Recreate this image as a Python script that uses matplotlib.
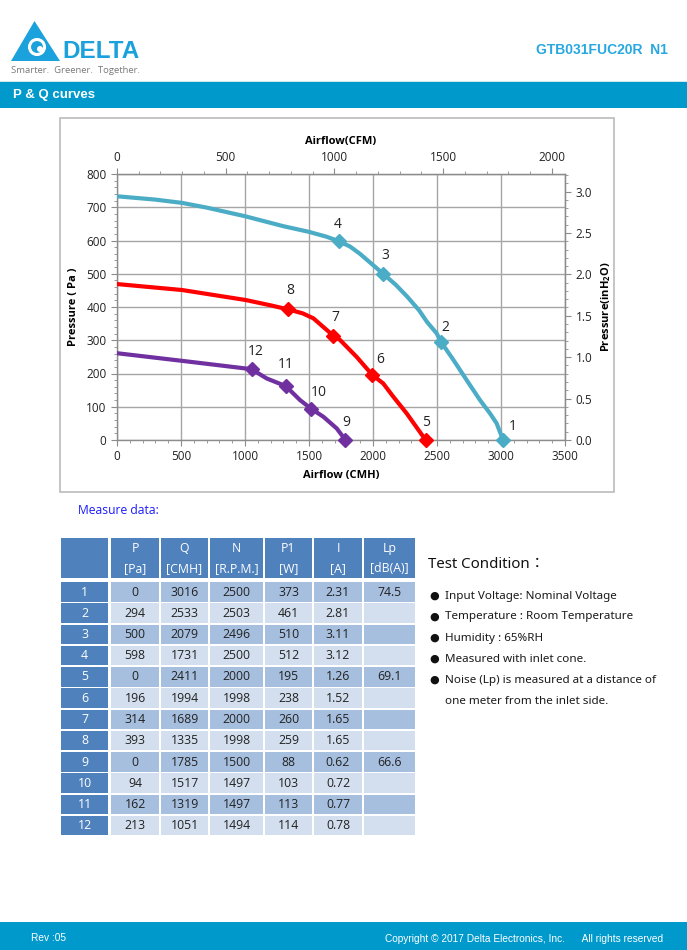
import matplotlib
matplotlib.use("Agg")
import matplotlib.pyplot as plt
from matplotlib.patches import Rectangle, Polygon, Circle
from matplotlib.ticker import MultipleLocator, FixedLocator, FormatStrFormatter

plt.rcParams["mathtext.fontset"] = "custom"
plt.rcParams["mathtext.rm"] = "Open Sans"
plt.rcParams["mathtext.bf"] = "Open Sans:bold"

# Measured operating points (table on the sheet)
point_no = [1, 2, 3, 4, 5, 6, 7, 8, 9, 10, 11, 12]
p_pa = [0, 294, 500, 598, 0, 196, 314, 393, 0, 94, 162, 213]
q_cmh = [3016, 2533, 2079, 1731, 2411, 1994, 1689, 1335, 1785, 1517, 1319, 1051]
speed_rpm = [2500, 2503, 2496, 2500, 2000, 1998, 2000, 1998, 1500, 1497, 1497, 1494]
power_w = [373, 461, 510, 512, 195, 238, 260, 259, 88, 103, 113, 114]
current_a = ["2.31", "2.81", "3.11", "3.12", "1.26", "1.52", "1.65", "1.65",
             "0.62", "0.72", "0.77", "0.78"]
noise_db = ["74.5", "", "", "", "69.1", "", "", "", "66.6", "", "", ""]

# P-Q curve traces (CMH, Pa)
curve_2500_q = [0, 300, 510, 700, 1000, 1300, 1500, 1640, 1731, 1820, 1898, 2079, 2180,
                2270, 2360, 2424, 2497, 2533, 2628, 2732, 2836, 2914, 2966, 3016]
curve_2500_p = [733, 723, 713, 699, 673, 643, 626, 611, 598, 582, 560, 500, 466,
                430, 390, 354, 321, 294, 241, 180, 120, 80, 50, 0]
curve_2000_q = [0, 510, 1005, 1200, 1335, 1450, 1534, 1689, 1742, 1872, 1994, 2080, 2159,
                2263, 2411]
curve_2000_p = [469, 451, 421, 405, 393, 381, 366, 314, 301, 250, 196, 170, 130, 80, 0]
curve_1500_q = [0, 510, 1051, 1170, 1319, 1430, 1517, 1612, 1716, 1785]
curve_1500_p = [261, 238, 213, 185, 162, 120, 94, 70, 35, 0]

curve_colors = ["#4bacc6", "#ff0000", "#7030a0"]

# label offsets (pixels) for the point numbers
label_dx = [10, 4, 2, -1, 0, 8, 2, 2, 1, 8, 0, 4]
label_dy = [13, 15, 18, 17, 17, 15, 18, 19, 17, 16, 22, 18]

cfm_ticks = [0, 500, 1000, 1500, 2000]
inh2o_ticks = [0.0, 0.5, 1.0, 1.5, 2.0, 2.5, 3.0]

col_heads = [("P", "[Pa]"), ("Q", "[CMH]"), ("N", "[R.P.M.]"),
             ("P1", "[W]"), ("I", "[A]"), ("Lp", "[dB(A)]")]

conditions = ["Input Voltage: Nominal Voltage",
              "Temperature : Room Temperature",
              "Humidity : 65%RH",
              "Measured with inlet cone.",
              "Noise (Lp) is measured at a distance of",
              "one meter from the inlet side."]

W, H = 687, 950
fig = plt.figure(figsize=(W / 100, H / 100), dpi=100)

# page layer in pixel coordinates
pg = fig.add_axes([0, 0, 1, 1])
pg.set_xlim(0, W)
pg.set_ylim(H, 0)
pg.axis("off")

bar_blue = "#0099cc"
logo_blue = "#1ba1db"

# logo
pg.add_patch(Polygon([[11, 61], [34.5, 21], [60, 61]], closed=True, color=logo_blue, lw=0))
pg.add_patch(Circle((37, 47), 7.5, fill=False, ec="white", lw=2.2))
pg.add_patch(Circle((40, 49), 3.0, color="white", lw=0))
pg.text(62, 52, "DELTA", fontsize=17.5, fontweight="heavy", color=logo_blue,
        family="Liberation Sans", va="center", ha="left")
pg.text(11, 70.5, "Smarter.  Greener.  Together.", fontsize=6.8, color="#7a7a7a",
        family="Open Sans", va="center", ha="left")
pg.text(668, 50, "GTB031FUC20R  N1", fontsize=10, fontweight="bold", color="#27a8e0",
        family="Liberation Sans", va="center", ha="right")

# header bar
pg.add_patch(Rectangle((0, 80.5), W, 1.2, color="#cfe8f3", lw=0))
pg.add_patch(Rectangle((0, 82), W, 26, color=bar_blue, lw=0))
pg.text(13, 95, "P & Q curves", fontsize=9.5, fontweight="bold", color="white",
        family="Liberation Sans", va="center", ha="left")

# chart frame
pg.add_patch(Rectangle((60, 118), 554, 374, fill=False, ec="#c0c0c0", lw=1.3))

# footer
pg.add_patch(Rectangle((0, 922), W, 28, color=bar_blue, lw=0))
pg.text(31, 938, "Rev :05", fontsize=7.3, color="white", family="Liberation Sans",
        va="center", ha="left")
pg.text(663, 939, "Copyright \u00a9 2017 Delta Electronics, Inc.      All rights reserved",
        fontsize=7.3, color="white", family="Liberation Sans", va="center", ha="right")

# measure data title
pg.text(78, 510, "Measure data:", fontsize=8.7, color="#1a1aff", family="Open Sans",
        va="center", ha="left")

# table
col_x = [(61, 108), (111, 159), (161, 208), (210, 263), (265, 312), (314, 362), (364, 415)]
head_fill = "#4f81bd"
row_fill = ["#a7bfde", "#d3dfee"]
tfont = "Open Sans"
for j, (x0, x1) in enumerate(col_x):
    pg.add_patch(Rectangle((x0, 538), x1 - x0, 40, color=head_fill, lw=0))
    if j > 0:
        top, bot = col_heads[j - 1]
        pg.text((x0 + x1) / 2, 548.5, top, fontsize=8.8, color="white", family=tfont,
                ha="center", va="center")
        pg.text((x0 + x1) / 2, 569, bot, fontsize=8.8, color="white", family=tfont,
                ha="center", va="center")

for i in range(len(point_no)):
    y0 = 582 + i * 21.25
    yc = y0 + 10
    vals = [str(p_pa[i]), str(q_cmh[i]), str(speed_rpm[i]), str(power_w[i]),
            current_a[i], noise_db[i]]
    for j, (x0, x1) in enumerate(col_x):
        fc = head_fill if j == 0 else row_fill[i % 2]
        pg.add_patch(Rectangle((x0, y0), x1 - x0, 19.5, color=fc, lw=0))
        if j == 0:
            pg.text((x0 + x1) / 2, yc, str(point_no[i]), fontsize=8.8, color="white",
                    family=tfont, ha="center", va="center")
        else:
            pg.text((x0 + x1) / 2, yc, vals[j - 1], fontsize=8.8, color="#222222",
                    family=tfont, ha="center", va="center")

# test condition
pg.text(428, 564, "Test Condition\uff1a", fontsize=10.8, color="#111111",
        family=["Noto Sans", "Noto Sans CJK TC"], ha="left", va="center")
for k, line in enumerate(conditions):
    y = 596 + k * 21
    if k < 5:
        pg.text(434.5, y, "\u25cf", fontsize=8, color="#111111", family="DejaVu Sans",
                ha="center", va="center")
    pg.text(445, y, line, fontsize=8.4, color="#1a1a1a", family="Noto Sans",
            ha="left", va="center")

# ---------------- chart ----------------
ax = fig.add_axes([117 / W, 1 - 440 / H, 448 / W, 266 / H])
ax.set_facecolor("none")
ax.set_xlim(0, 3500)
ax.set_ylim(0, 800)

cfont = "Open Sans"
spine_c = "#8c8c8c"
for s in ax.spines.values():
    s.set_color(spine_c)
    s.set_linewidth(1.0)

ax.xaxis.set_major_locator(MultipleLocator(500))
ax.xaxis.set_minor_locator(MultipleLocator(100))
ax.yaxis.set_major_locator(MultipleLocator(100))
ax.yaxis.set_minor_locator(MultipleLocator(20))
ax.grid(True, which="major", color="#a6a6a6", lw=1.0)
ax.set_axisbelow(True)
ax.tick_params(which="both", direction="out", colors=spine_c, labelcolor="#222222",
               labelsize=8.5)
ax.tick_params(which="major", length=4)
ax.tick_params(which="minor", length=2.5)
for lab in ax.get_xticklabels() + ax.get_yticklabels():
    lab.set_family(cfont)

ax.set_xlabel("Airflow (CMH)", fontsize=8, fontweight="bold", family=cfont, labelpad=5)
ax.set_ylabel("Pressure ( Pa )", fontsize=8, fontweight="bold", family=cfont, labelpad=5)

cfm = 1.699
top = ax.secondary_xaxis("top", functions=(lambda q: q / cfm, lambda c: c * cfm))
top.xaxis.set_major_locator(FixedLocator(cfm_ticks))
top.xaxis.set_minor_locator(FixedLocator(list(range(0, 2001, 100))))
top.tick_params(which="both", direction="out", colors=spine_c, labelcolor="#222222",
                labelsize=8.5)
top.tick_params(which="major", length=4)
top.tick_params(which="minor", length=2.5)
top.set_xlabel("Airflow(CFM)", fontsize=8, fontweight="bold", family=cfont, labelpad=5)
for lab in top.get_xticklabels():
    lab.set_family(cfont)
top.spines["top"].set_color(spine_c)

inh2o = 249.09
right = ax.secondary_yaxis("right", functions=(lambda p: p / inh2o, lambda w: w * inh2o))
right.yaxis.set_major_locator(FixedLocator(inh2o_ticks))
right.yaxis.set_minor_locator(FixedLocator([k / 10 for k in range(0, 33)]))
right.yaxis.set_major_formatter(FormatStrFormatter("%.1f"))
right.tick_params(which="both", direction="out", colors=spine_c, labelcolor="#222222",
                  labelsize=8.5)
right.tick_params(which="major", length=4)
right.tick_params(which="minor", length=2.5)
right.set_ylabel(r"Pressure(inH$_\mathbf{2}$O)", fontsize=8, fontweight="bold",
                 family=cfont, labelpad=5)
for lab in right.get_yticklabels():
    lab.set_family(cfont)
right.spines["right"].set_color(spine_c)

curves = [(curve_2500_q, curve_2500_p), (curve_2000_q, curve_2000_p),
          (curve_1500_q, curve_1500_p)]
for (cq, cp), col in zip(curves, curve_colors):
    ax.plot(cq, cp, color=col, lw=3.0, solid_joinstyle="round", solid_capstyle="round",
            zorder=3)

for i in range(len(point_no)):
    col = curve_colors[i // 4]
    ax.plot(q_cmh[i], p_pa[i], marker="D", ms=7.5, color=col, mec=col, zorder=4,
            clip_on=False)
    ax.annotate(str(point_no[i]), (q_cmh[i], p_pa[i]),
                xytext=(label_dx[i], label_dy[i]), textcoords="offset pixels",
                fontsize=10, family=cfont, color="#222222", ha="center", va="center")

fig.savefig("out.png", dpi=100)
